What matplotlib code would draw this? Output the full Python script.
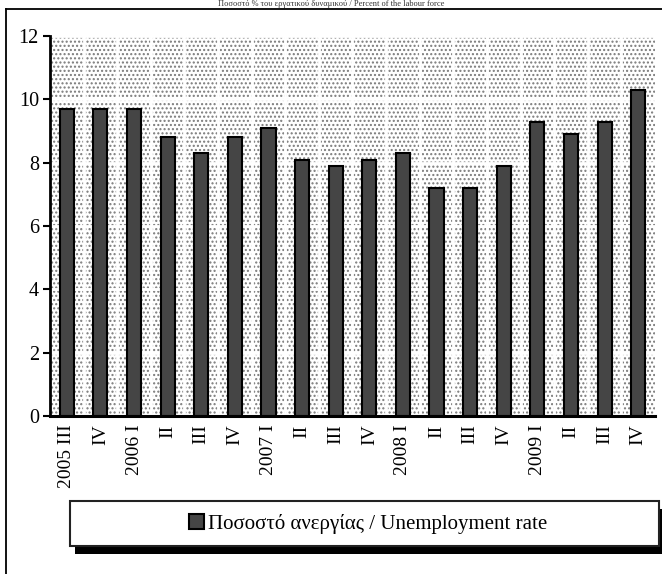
import numpy as np
import matplotlib
matplotlib.use('Agg')
import matplotlib.pyplot as plt
from matplotlib.patches import Rectangle

plt.rcParams['font.family'] = ['Liberation Serif', 'DejaVu Serif']

quarters = ['2005 III', 'IV', '2006 I', 'II', 'III', 'IV', '2007 I', 'II', 'III', 'IV',
            '2008 I', 'II', 'III', 'IV', '2009 I', 'II', 'III', 'IV']
rate = [9.7, 9.7, 9.7, 8.8, 8.3, 8.8, 9.1, 8.1, 7.9, 8.1,
        8.3, 7.2, 7.2, 7.9, 9.3, 8.9, 9.3, 10.3]
yticks = [0, 2, 4, 6, 8, 10, 12]
title = 'Ποσοστό % του εργατικού δυναμικού / Percent of the labour force'
series_name = 'Ποσοστό ανεργίας / Unemployment rate'

W, H = 662, 574
fig = plt.figure(figsize=(W / 100, H / 100), dpi=100)

# outer frame (left and top edges only are visible)
fig.add_artist(plt.Line2D([6 / W, 6 / W], [0, 1 - 9 / H], color='black', lw=1.3,
                          transform=fig.transFigure))
fig.add_artist(plt.Line2D([6 / W, 1], [1 - 9 / H, 1 - 9 / H], color='black', lw=1.3,
                          transform=fig.transFigure))

# title squeezed into the strip above the frame
fig.text(0.5, 1 - 0.5 / H, title, ha='center', va='top', fontsize=6, color='#333333')

ax = fig.add_axes([50 / W, 1 - 416 / H, (655 - 50) / W, (416 - 36) / H])
x = np.arange(len(quarters))

bg = Rectangle((0, 0), 1, 1, transform=ax.transAxes, facecolor='white',
               edgecolor='#7a7a7a', hatch='....', lw=0, zorder=0)
ax.add_patch(bg)

bars = ax.bar(x, rate, width=0.42, color='#454545', edgecolor='black', lw=1.5,
              zorder=3, label=series_name)

ax.set_xlim(-0.5, len(quarters) - 0.5)
ax.set_ylim(0, 12)
ax.set_yticks(yticks)
ax.set_xticks(x)
ax.set_xticklabels(quarters, rotation=90, fontsize=14)
ax.set_xticks(x[:-1] + 0.5, minor=True)
ax.tick_params(axis='y', labelsize=14.5, direction='out', length=5, width=1.5, pad=3)
ax.tick_params(axis='x', which='both', length=0, pad=6)
ax.grid(True, axis='y', color='white', lw=2, zorder=1)
ax.grid(True, axis='x', which='minor', color='white', lw=2, zorder=1)
ax.grid(False, axis='x', which='major')

for s in ['top', 'right']:
    ax.spines[s].set_visible(False)
ax.spines['left'].set_linewidth(2)
ax.spines['bottom'].set_linewidth(2.2)
ax.spines['left'].set_zorder(4)
ax.spines['bottom'].set_zorder(4)

# legend box with shadow
lx, ly, lw_, lh = 70 / W, 1 - 546 / H, 589 / W, 45 / H
fig.add_artist(Rectangle((lx + 5 / W, ly - 8 / H), lw_, lh, transform=fig.transFigure,
                         facecolor='black', edgecolor='black', lw=0))
fig.add_artist(Rectangle((lx, ly), lw_, lh, transform=fig.transFigure,
                         facecolor='white', edgecolor='#222222', lw=1.5))
fig.legend(handles=[bars], labels=[series_name], loc='center',
           bbox_to_anchor=(lx + lw_ / 2 + 4 / W, ly + lh / 2), frameon=False,
           fontsize=15, handlelength=0.7, handleheight=0.7, handletextpad=0.2)

fig.savefig('out.png', dpi=100)
